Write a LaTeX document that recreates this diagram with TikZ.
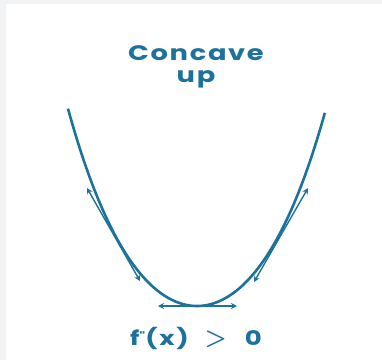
\documentclass[tikz,border=0pt]{standalone}
\usepackage{fontspec}
\newfontfamily\pop{Poppins}[FakeStretch=1.3,LetterSpace=8]
\usetikzlibrary{arrows.meta}
\definecolor{teal1}{HTML}{1D729B}
\definecolor{bggrey}{HTML}{F1F3F4}
\tikzset{
  curve/.style={draw=teal1, line width=2.6pt},
  tang/.style={draw=teal1, line width=1.4pt, {Stealth[length=6pt,width=6pt]}-{Stealth[length=6pt,width=6pt]}},
  lbl/.style={text=teal1, font=\pop\bfseries, inner sep=0pt, align=center}
}
\begin{document}
\begin{tikzpicture}[x=1pt,y=-1pt]
\fill[bggrey] (0,0) rectangle (382,360);
\fill[white] (6,4) rectangle (382,360);
\useasboundingbox (0,0) rectangle (382,360);
\node[lbl, font=\pop\bfseries\fontsize{21}{22}\selectfont] (title) at (196,67) {Concave\\up};
\draw[curve] plot[domain=-1.008:1, samples=121] ({197+128*\x},{306-158.1*\x*\x-35.6*\x*\x*\x*\x});
\coordinate (l1) at (87,188);
\coordinate (l2) at (140,281);
\coordinate (r1) at (308,188);
\coordinate (r2) at (254,282);
\coordinate (b1) at (158,306);
\coordinate (b2) at (237,306);
\draw[tang] (l1) -- (l2);
\draw[tang] (r1) -- (r2);
\draw[tang] (b1) -- (b2);
\node[lbl, font=\pop\bfseries\fontsize{20}{21}\selectfont] (cond) at (196,338) {f\raisebox{5pt}{\fontsize{11}{11}\selectfont"}(x)\hspace{16pt}{\fontsize{23}{23}\selectfont\boldmath$>$}\hspace{18pt}0};
\end{tikzpicture}
\end{document}
